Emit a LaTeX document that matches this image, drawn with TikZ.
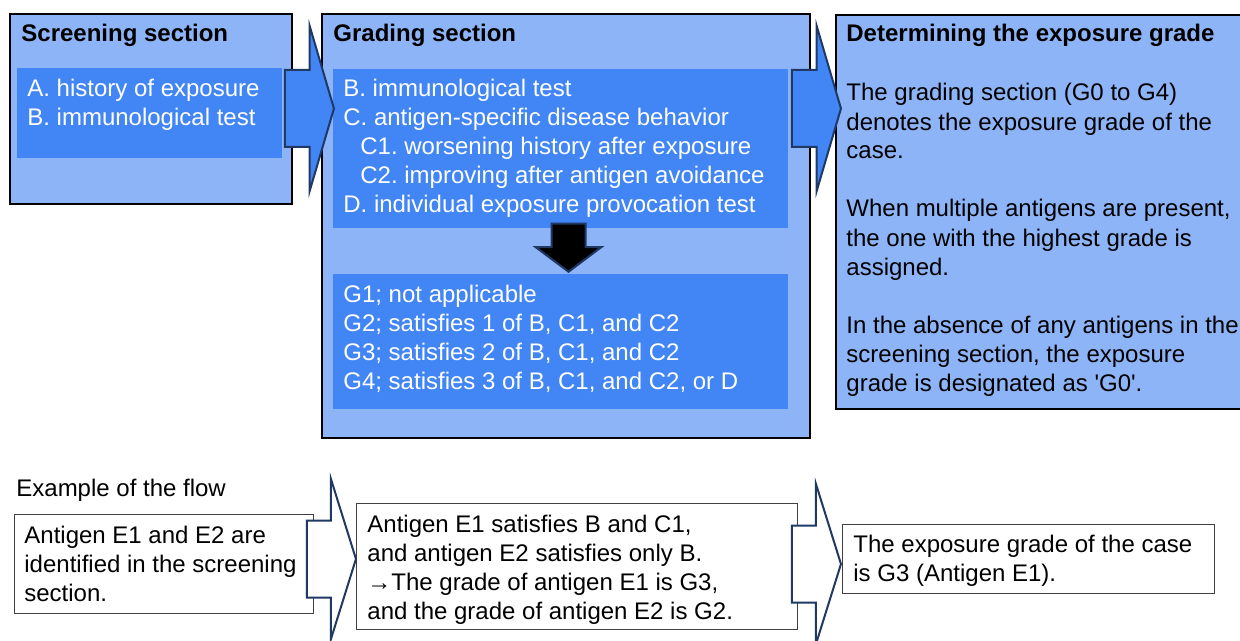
\documentclass[tikz,border=0pt]{standalone}
\usepackage{fontspec}
\setmainfont{Liberation Sans}
\usetikzlibrary{shapes.arrows}
\frenchspacing

\definecolor{lightblue}{HTML}{8EB4F8}
\definecolor{midblue}{HTML}{4285F4}
\definecolor{navy}{HTML}{1F3864}

\tikzset{
    section/.style={shape=rectangle, draw=black, line width=1.2pt, fill=lightblue, anchor=north west, inner sep=0pt},
    listbox/.style={shape=rectangle, fill=midblue, anchor=north west, inner sep=0pt},
    flowbox/.style={shape=rectangle, draw=black!75, line width=0.6pt, fill=white, anchor=north west, inner sep=0pt},
    % base of a multi-line text is its last line
    txt/.style={anchor=base west, inner sep=0pt, align=left, font=\fontsize{12}{14.5}\selectfont},
    title/.style={txt, font=\fontsize{12}{14.5}\selectfont\bfseries},
    bluearrow/.style={single arrow, draw=navy, line width=1pt, fill=midblue, inner xsep=0pt, inner ysep=18.75pt,
        minimum width=81.5pt, minimum height=24.5pt, single arrow head extend=22pt,
        single arrow tip angle=147.2, anchor=tip},
    whitearrow/.style={single arrow, draw=navy, line width=1pt, fill=white, inner xsep=0pt, inner ysep=18.75pt,
        minimum width=80.5pt, minimum height=24.5pt, single arrow head extend=21pt,
        single arrow tip angle=145.3, anchor=tip},
    downarrow/.style={single arrow, rotate=-90, draw=navy, line width=1pt, fill=black, inner xsep=0pt, inner ysep=8pt,
        minimum width=32pt, minimum height=24pt, single arrow head extend=8pt,
        single arrow tip angle=106.3, anchor=tip}
}

\begin{document}
\begin{tikzpicture}[x=0.5pt, y=-0.5pt]
    \useasboundingbox (0,0) rectangle (1240,641);
    \clip (0,0) rectangle (1240,641);

    % upper row
    \node[section, minimum width=141pt, minimum height=95pt] (scr) at (9,13) {};
    \node[listbox, minimum width=132.5pt, minimum height=45pt] (scrlist) at (17,68) {};
    \node[title] (scrtitle) at (21,42) {Screening section};
    \node[txt, text=white] (scritems) at (27,126) {A. history of exposure\\B. immunological test};

    \node[section, minimum width=244pt, minimum height=212pt] (grd) at (321,13) {};
    \node[listbox, minimum width=227.5pt, minimum height=79.5pt] (grdlist) at (333,69) {};
    \node[listbox, minimum width=227.5pt, minimum height=67.5pt] (grdres) at (333,274) {};
    \node[title] (grdtitle) at (333,42) {Grading section};
    \node[txt, text=white] (grditems) at (343,213) {B. immunological test\\
        C. antigen-specific disease behavior\\
        \hspace*{8.5pt}C1. worsening history after exposure\\
        \hspace*{8.5pt}C2. improving after antigen avoidance\\
        D. individual exposure provocation test};
    \node[txt, text=white] (grdgrades) at (343,389) {G1; not applicable\\
        G2; satisfies 1 of B, C1, and C2\\
        G3; satisfies 2 of B, C1, and C2\\
        G4; satisfies 3 of B, C1, and C2, or D};
    \node[downarrow] (grdarrow) at (568.5,273) {};

    \node[section, minimum width=210pt, minimum height=197pt] (det) at (835,14) {};
    \node[title] (dettitle) at (846,42) {Determining the exposure grade};
    \node[txt] (dettext) at (846,391) {The grading section (G0 to G4)\\
        denotes the exposure grade of the\\
        case.\\[14.5pt]
        When multiple antigens are present,\\
        the one with the highest grade is\\
        assigned.\\[14.5pt]
        In the absence of any antigens in the\\
        screening section, the exposure\\
        grade is designated as \textquotesingle G0\textquotesingle.};

    \node[bluearrow] (scr2grd) at (335,108.5) {};
    \node[bluearrow] (grd2det) at (842,108.5) {};

    % example row
    \node[txt] (extitle) at (16,496) {Example of the flow};
    \node[flowbox, minimum width=149.5pt, minimum height=49.5pt] (ex1) at (14,514) {};
    \node[txt] (ex1text) at (24,601) {Antigen E1 and E2 are\\
        identified in the screening\\
        section.};
    \node[flowbox, minimum width=220.5pt, minimum height=63pt] (ex2) at (356,503) {};
    \node[txt] (ex2text) at (367,619) {Antigen E1 satisfies B and C1,\\
        and antigen E2 satisfies only B.\\
        →The grade of antigen E1 is G3,\\
        and the grade of antigen E2 is G2.};
    \node[flowbox, minimum width=186pt, minimum height=34.5pt] (ex3) at (842,524) {};
    \node[txt] (ex3text) at (853,581) {The exposure grade of the case\\
        is G3 (Antigen E1).};

    \node[whitearrow] (ex1to2) at (357,559) {};
    \node[whitearrow] (ex2to3) at (842,564) {};
\end{tikzpicture}
\end{document}
